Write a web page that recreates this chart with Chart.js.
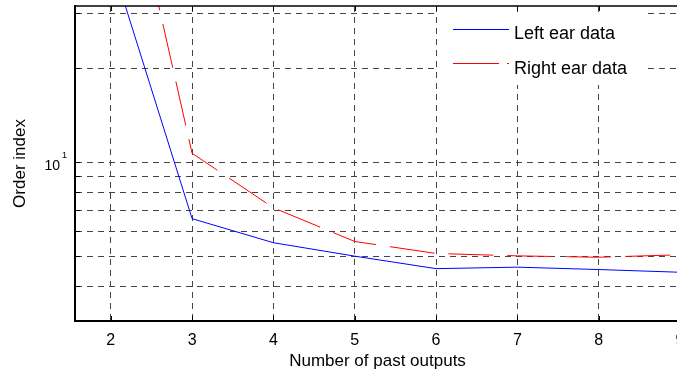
<!DOCTYPE html>
<html>
<head>
<meta charset="utf-8">
<script src="https://cdn.jsdelivr.net/npm/chart.js@4"></script>
<style>
  html, body { margin: 0; padding: 0; background: #fff; overflow: hidden; }
  #wrap { width: 690px; height: 375px; }
</style>
</head>
<body>
<div id="wrap"><canvas id="chart" width="690" height="375"></canvas></div>
<script>
'use strict';

// Data
const pastOutputs = [2, 3, 4, 5, 6, 7, 8, 9];
const leftEar = [44.5, 6.59, 5.52, 5.0, 4.56, 4.61, 4.53, 4.44];
const rightEar = [151, 10.67, 7.14, 5.57, 5.1, 5.01, 4.96, 5.05];
const yGridValues = [4, 5, 6, 7, 8, 9, 10, 20, 30];
const seriesNames = ['Left ear data', 'Right ear data'];

const FONT = 'Liberation Sans, Arial, Helvetica, sans-serif';

const toPoints = (ys) => pastOutputs.map((x, i) => ({ x, y: ys[i] }));

// Frame, inward ticks, superscript and the boxed legend (MATLAB look)
const matlabDecor = {
    id: 'matlabDecor',
    afterDatasetsDraw(chart) {
        const { ctx, chartArea: a, scales: { x, y } } = chart;
        ctx.save();
        ctx.strokeStyle = '#000';
        ctx.lineWidth = 1.5;
        ctx.beginPath();
        ctx.moveTo(a.left, a.top);
        ctx.lineTo(a.right, a.top);
        ctx.stroke();

        // inward tick marks
        ctx.lineWidth = 1;
        ctx.beginPath();
        pastOutputs.forEach(v => {
            const px = Math.round(x.getPixelForValue(v)) + 0.5;
            ctx.moveTo(px, a.top); ctx.lineTo(px, a.top + 5);
            ctx.moveTo(px, a.bottom); ctx.lineTo(px, a.bottom - 5);
        });
        yGridValues.forEach(v => {
            const py = Math.round(y.getPixelForValue(v)) + 0.5;
            ctx.moveTo(a.left, py); ctx.lineTo(a.left + 5, py);
        });
        ctx.stroke();

        // legend box
        ctx.fillStyle = '#fff';
        ctx.fillRect(439, 12, 204, 73);
        // sample lines: solid blue, dashed red
        ctx.fillStyle = '#0000ff';
        ctx.fillRect(453, 29, 56, 1);
        ctx.fillStyle = '#ff0000';
        ctx.fillRect(453, 63, 46, 1);
        ctx.fillRect(507, 63, 2, 1);

        ctx.font = '18px ' + FONT;
        ctx.textAlign = 'left';
        ctx.textBaseline = 'alphabetic';
        ctx.fillStyle = '#000';
        ctx.fillText(seriesNames[0], 514, 39);
        ctx.fillText(seriesNames[1], 514, 74);

        // exponent of the 10^1 tick label
        ctx.font = '9px ' + FONT;
        ctx.fillText('1', 62, y.getPixelForValue(10) - 4);
        ctx.restore();
    }
};

new Chart(document.getElementById('chart'), {
    type: 'line',
    data: {
        datasets: [
            {
                label: seriesNames[0],
                data: toPoints(leftEar),
                borderColor: '#0000ff',
                borderWidth: 1,
                pointRadius: 0,
                tension: 0,
            },
            {
                label: seriesNames[1],
                data: toPoints(rightEar),
                borderColor: '#ff0000',
                borderWidth: 1,
                borderDash: [45, 14],
                pointRadius: 0,
                tension: 0,
            }
        ]
    },
    options: {
        responsive: false,
        animation: false,
        layout: { padding: { left: 0, top: 6, right: 10, bottom: 0 } },
        plugins: { legend: { display: false }, tooltip: { enabled: false } },
        scales: {
            x: {
                type: 'linear',
                min: 1.56,
                max: 9,
                afterFit: (s) => { s.height = 54; s.paddingLeft = 0; s.paddingRight = 0; },
                ticks: {
                    stepSize: 1,
                    includeBounds: false,
                    padding: 10,
                    color: '#000',
                    font: { family: FONT, size: 16 },
                },
                grid: { color: '#444', lineWidth: 1, drawTicks: false },
                border: { color: '#000', width: 2, dash: [6, 5] },
                title: {
                    display: true,
                    text: 'Number of past outputs',
                    color: '#000',
                    font: { family: FONT, size: 17 },
                    padding: { top: 0, bottom: 3 },
                },
            },
            y: {
                type: 'logarithmic',
                min: 3.1,
                max: 31.6,
                afterFit: (s) => { s.width = 75; s.paddingTop = 0; s.paddingBottom = 0; },
                afterBuildTicks: (s) => { s.ticks = yGridValues.map(v => ({ value: v })); },
                ticks: {
                    padding: 15,
                    labelOffset: 4,
                    color: '#000',
                    font: { family: FONT, size: 14 },
                    callback: (v) => (v === 10 ? '10' : ''),
                },
                grid: { color: '#444', lineWidth: 1, drawTicks: false },
                border: { color: '#000', width: 2, dash: [6, 5] },
                title: {
                    display: true,
                    text: 'Order index',
                    color: '#000',
                    font: { family: FONT, size: 17 },
                    padding: { top: 10, bottom: 0 },
                },
            }
        }
    },
    plugins: [matlabDecor]
});
</script>
</body>
</html>
